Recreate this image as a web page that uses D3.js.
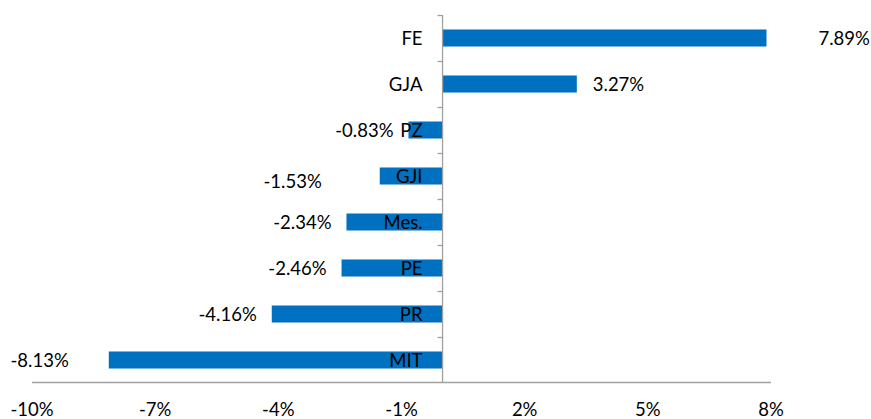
<!DOCTYPE html>
<head>
  <meta charset="utf-8">
  <script src="https://d3js.org/d3.v7.min.js"></script>
  <style>
    body { margin:0; background:#fff; }
    text { font-family: Lato, "Open Sans", sans-serif; font-size: 18.5px; fill: #000; }
  </style>
</head>
<body>
  <svg width="871" height="419"></svg>
  <script>
    var categories = ["FE", "GJA", "PZ", "GJI", "Mes.", "PE", "PR", "MIT"];
    var values = [7.89, 3.27, -0.83, -1.53, -2.34, -2.46, -4.16, -8.13];
    // extra push for the labels that were dragged away from the bar end
    var labelShift = [36, 0, 0, 43, 0, 0, 0, 25];
    var tickValues = [-10, -7, -4, -1, 2, 5, 8];

    var svg = d3.select("svg");

    var x = d3.scaleLinear().domain([-10, 8]).range([32, 771]);
    var y = d3.scaleBand().domain(categories).range([15, 383]).paddingInner(0.63).paddingOuter(0.315);
    var band = d3.scaleBand().domain(categories).range([15, 383]);

    // bars
    svg.selectAll(".bar")
      .data(values)
      .enter().append("rect")
      .attr("x", function(d) { return x(Math.min(0, d)); })
      .attr("y", function(d, i) { return y(categories[i]); })
      .attr("width", function(d) { return Math.abs(x(d) - x(0)); })
      .attr("height", y.bandwidth())
      .attr("fill", "#0070C0");

    // bottom axis line
    svg.append("line")
      .attr("x1", x(-10)).attr("x2", x(8))
      .attr("y1", 382.5).attr("y2", 382.5)
      .attr("stroke", "#a0a0a0").attr("stroke-width", 1.3);

    // vertical axis at zero
    svg.append("line")
      .attr("x1", x(0)).attr("x2", x(0))
      .attr("y1", 15).attr("y2", 383)
      .attr("stroke", "#a0a0a0").attr("stroke-width", 1.3);

    svg.selectAll(".ytick")
      .data(categories)
      .enter().append("line")
      .attr("x1", x(0) - 5).attr("x2", x(0))
      .attr("y1", function(d) { return band(d) + 0.5; })
      .attr("y2", function(d) { return band(d) + 0.5; })
      .attr("stroke", "#a0a0a0").attr("stroke-width", 1.3);

    // tick labels
    svg.selectAll(".xlab")
      .data(tickValues)
      .enter().append("text")
      .attr("x", function(d) { return x(d); })
      .attr("y", 416)
      .attr("text-anchor", "middle")
      .text(function(d) { return d + "%"; });

    // category labels
    svg.selectAll(".cat")
      .data(categories)
      .enter().append("text")
      .attr("x", x(0) - 20)
      .attr("y", function(d) { return band(d) + band.bandwidth() / 2 + 6.5; })
      .attr("text-anchor", "end")
      .text(function(d) { return d; });

    // value labels
    svg.selectAll(".val")
      .data(values)
      .enter().append("text")
      .attr("x", function(d, i) {
        return d >= 0 ? x(d) + 16 + labelShift[i] : x(d) - 15 - labelShift[i];
      })
      .attr("y", function(d, i) { return band(categories[i]) + band.bandwidth() / 2 + 6.5 + (i == 3 ? 5 : 0); })
      .attr("text-anchor", function(d) { return d >= 0 ? "start" : "end"; })
      .text(function(d) { return d.toFixed(2) + "%"; });
  </script>
</body>
